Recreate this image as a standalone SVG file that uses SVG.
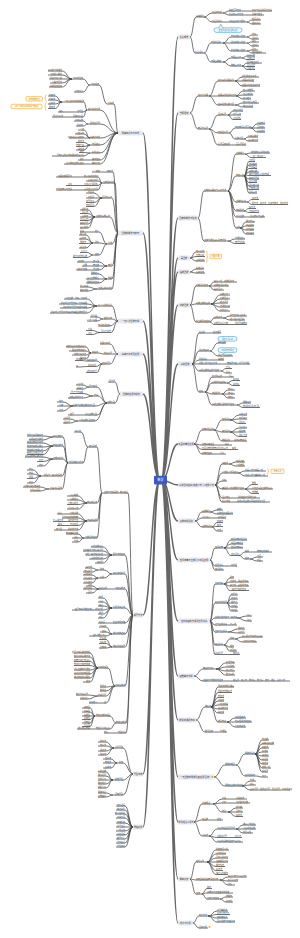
<svg xmlns="http://www.w3.org/2000/svg" width="300" height="938" viewBox="0 0 300 938">
<style>
text{font-family:"Noto Sans CJK SC","Noto Sans",sans-serif;font-size:2px;fill:#444}
#nodes text{transform:translateY(-.5px)}
.e{text-anchor:end}
#connectors path{fill:none;stroke:#464646;stroke-width:.75}
#connectors path.t{stroke:#666;stroke-width:1.4}
#nodes path{fill:none;stroke:#464646;stroke-width:.75}
.mr{fill:#e7e7f1}
#nodes .mt{font-size:2.2px;fill:#333;text-anchor:middle;transform:translateY(.8px)}
#nodes .co{fill:#eef8fd;stroke:#3ba3dc;stroke-width:.6}
#nodes .sb{fill:#fffaf0;stroke:#f5a623;stroke-width:.6}
#nodes .br{fill:none;stroke:#f5a623;stroke-width:.6}
#nodes .ct{font-size:1.9px;fill:#2a7fb0;text-anchor:middle;transform:none}
#nodes .st{font-size:1.9px;fill:#c27a08;text-anchor:middle;transform:none}
#nodes .rt{font-size:3px;fill:#fff;text-anchor:middle;transform:none}
</style>
<rect width="300" height="938" fill="#fff"/>
<g id="connectors">
<path class="t" d="M161 480C170 480 170 37 178 37M161 480C170 480 170 113 178 113M161 480C170 480 170 218 178 218M161 480C170 480 170 258 178 258M161 480C170 480 170 272 178 272M161 480C170 480 170 305 178 305M161 480C170 480 170 364 178 364M161 480C170 480 170 444 178 444M161 480C170 480 170 485 178 485M161 480C170 480 170 521 178 521M161 480C170 480 170 560 178 560M161 480C170 480 170 621 178 621M161 480C170 480 170 676 178 676M161 480C170 480 170 720 178 720M161 480C170 480 170 777 178 777M161 480C170 480 170 822 178 822M161 480C170 480 170 879 178 879M161 480C170 480 170 923 178 923M160 480C151 480 151 133 143 133M160 480C151 480 151 233 143 233M160 480C151 480 151 321 143 321M160 480C151 480 151 354 143 354M160 480C151 480 151 394 143 394M160 480C151 480 151 615 143 615M160 480C151 480 151 774 143 774M160 480C151 480 151 827 143 827"/>
<path d="M190 37C193 37 193 17 196 17M204 17C208 17 208 13 212 13M223 13C226 13 226 11 229 11M244 11H252M223 13C226 13 226 15 229 15M244 15H252M204 17C208 17 208 22 212 22M223 22H229M247 22C249.5 22 249.5 20 252 20M247 22C249.5 22 249.5 24 252 24M190 37C192.5 37 192.5 53 195 53M204 53C207.5 53 207.5 43 211 43M223 43C227 43 227 37 231 37M247 37C249.5 37 249.5 35 252 35M247 37C249.5 37 249.5 39 252 39M223 43H231M247 43C249.5 43 249.5 42 252 42M247 43C249.5 43 249.5 46 252 46M223 43C227 43 227 51 231 51M247 51C249.5 51 249.5 50 252 50M247 51C249.5 51 249.5 53 252 53M204 53C207.5 53 207.5 62 211 62M223 62C227 62 227 58 231 58M242 58C244.5 58 244.5 56 247 56M242 58C244.5 58 244.5 59.5 247 59.5M223 62C227 62 227 66 231 66M242 66C244.5 66 244.5 63 247 63M242 66C244.5 66 244.5 66.5 247 66.5M242 66C244.5 66 244.5 69.5 247 69.5"/>
<path d="M190 113C194 113 194 96 198 96M209 96C213.5 96 213.5 81 218 81M235 81C238.5 81 238.5 77 242 77M235 81H242M235 81C238.5 81 238.5 86 242 86M209 96H218M236 96C239.5 96 239.5 91 243 91M236 96C239.5 96 239.5 95 243 95M236 96C239.5 96 239.5 99 243 99M209 96C213.5 96 213.5 105 218 105M235 105C239 105 239 103 243 103M235 105C239 105 239 107 243 107M190 113C194 113 194 129 198 129M209 129C213.5 129 213.5 115 218 115M228 115C230.5 115 230.5 111 233 111M228 115H233M228 115C230.5 115 230.5 119.5 233 119.5M209 129C213.5 129 213.5 133 218 133M229 133C232 133 232 128 235 128M251 128C254 128 254 124 257 124M251 128H257M251 128C254 128 254 132 257 132M229 133C232 133 232 139 235 139M244 139C246 139 246 137 248 137M244 139C246 139 246 141 248 141M209 129C213.5 129 213.5 145 218 145M231 145H236"/>
<path d="M198 218C201 218 201 191 204 191M228 191C232 191 232 154 236 154M245 154C248 154 248 153 251 153M245 154C248 154 248 157.5 251 157.5M228 191C232 191 232 176 236 176M244 176C246.5 176 246.5 161.5 249 161.5M244 176C246.5 176 246.5 165 249 165M244 176C246.5 176 246.5 168.5 249 168.5M244 176C246.5 176 246.5 172 249 172M244 176C246.5 176 246.5 175.5 249 175.5M244 176C246.5 176 246.5 179 249 179M244 176C246.5 176 246.5 182.5 249 182.5M244 176C246.5 176 246.5 186 249 186M244 176C246.5 176 246.5 189.5 249 189.5M244 176C246.5 176 246.5 193 249 193M228 191C232 191 232 202 236 202M247 202C249.5 202 249.5 199.5 252 199.5M247 202C249.5 202 249.5 204.5 252 204.5M228 191C232 191 232 211 236 211M244 211C246.5 211 246.5 208.5 249 208.5M244 211C246.5 211 246.5 212.5 249 212.5M228 191C232 191 232 217 236 217M244 217H250M228 191C232 191 232 228 236 228M240 228C243 228 243 222 246 222M240 228C243 228 243 226 246 226M240 228C243 228 243 230 246 230M240 228C243 228 243 234 246 234M198 218C201 218 201 241 204 241M228 241C231.5 241 231.5 239 235 239M228 241C231.5 241 231.5 243.5 235 243.5"/>
<path d="M190 258C193 258 193 252 196 252M190 258C193 258 193 256.5 196 256.5M190 258C193 258 193 261 196 261M190 272C193 272 193 269 196 269M190 272C193 272 193 273 196 273"/>
<path d="M190 305C193 305 193 286 196 286M209 286C211.5 286 211.5 282 214 282M209 286H214M209 286C211.5 286 211.5 290 214 290M190 305C193 305 193 304 196 304M211 304C215.5 304 215.5 295 220 295M211 304C215.5 304 215.5 299 220 299M211 304C215.5 304 215.5 303 220 303M211 304C215.5 304 215.5 307 220 307M211 304C215.5 304 215.5 311 220 311M190 305C193 305 193 322 196 322M210 322C212 322 212 318 214 318M223 318C226.5 318 226.5 316 230 316M223 318C226.5 318 226.5 320 230 320M210 322C212 322 212 324.5 214 324.5M228 324.5H235"/>
<path d="M192 364C195.5 364 195.5 333 199 333M206 333H213M192 364C195.5 364 195.5 351 199 351M210 351C214 351 214 343 218 343M210 351C214 351 214 356 218 356M192 364C195.5 364 195.5 360 199 360M208 360H218M192 364H199M221 364H227M192 364C195.5 364 195.5 371 199 371M221 371C223.5 371 223.5 368.5 226 368.5M221 371C223.5 371 223.5 373 226 373M192 364C195.5 364 195.5 392 199 392M205 392C208.5 392 208.5 377 212 377M222 377H229M205 392C208.5 392 208.5 383 212 383M227 383C230 383 230 380.5 233 380.5M227 383C230 383 230 385.5 233 385.5M205 392C208.5 392 208.5 394 212 394M222 394C225 394 225 390 228 390M222 394H228M222 394C225 394 225 398 228 398M205 392C208.5 392 208.5 405 212 405M237 405C240 405 240 403 243 403M237 405C240 405 240 407.5 243 407.5"/>
<path d="M194 444C198 444 198 430 202 430M214 430C218 430 218 420 222 420M230 420C234.5 420 234.5 415 239 415M230 420C234.5 420 234.5 419 239 419M230 420C234.5 420 234.5 423.5 239 423.5M214 430C218 430 218 432 222 432M230 432C234.5 432 234.5 428 239 428M230 432H239M230 432C234.5 432 234.5 436.5 239 436.5M214 430C218 430 218 441 222 441M230 441H234M194 444C198 444 198 445 202 445M217 445H225M194 444C198 444 198 449.5 202 449.5M229 449.5H232M194 444C198 444 198 454 202 454M213 454H220"/>
<path d="M215 485C218.5 485 218.5 464 222 464M229 464C232.5 464 232.5 462 236 462M229 464C232.5 464 232.5 466 236 466M215 485C218.5 485 218.5 473 222 473M238 473C241.5 473 241.5 471 245 471M238 473C241.5 473 241.5 476 245 476M215 485C218.5 485 218.5 481 222 481M215 485C218.5 485 218.5 489 222 489M245 489C248.5 489 248.5 484.5 252 484.5M245 489H252M245 489C248.5 489 248.5 493.5 252 493.5M215 485C218.5 485 218.5 498 222 498M232 498H238M215 485C218.5 485 218.5 502 222 502M232 502H237"/>
<path d="M195 521C198.5 521 198.5 512 202 512M210 512C213.5 512 213.5 510 217 510M210 512C213.5 512 213.5 514 217 514M195 521C198.5 521 198.5 518 202 518M210 518H218M195 521C198.5 521 198.5 527 202 527M212 527C214.5 527 214.5 522.5 217 522.5M212 527C214.5 527 214.5 526.5 217 526.5M212 527C214.5 527 214.5 531 217 531"/>
<path d="M210 560C212.5 560 212.5 548 215 548M224 548C227.5 548 227.5 540 231 540M224 548C227.5 548 227.5 544 231 544M224 548H231M224 548C227.5 548 227.5 555.5 231 555.5M239 555.5C242 555.5 242 552 245 552M250 552H257M239 555.5C242 555.5 242 559 245 559M250 559C253.5 559 253.5 557 257 557M250 559C253.5 559 253.5 561 257 561M210 560C212.5 560 212.5 566 215 566M224 566H231M210 560C212.5 560 212.5 570 215 570"/>
<path d="M210 621C212.5 621 212.5 584 215 584M224 584C227 584 227 578 230 578M224 584C227 584 227 582 230 582M224 584C227 584 227 586 230 586M224 584C227 584 227 590.5 230 590.5M210 621C212.5 621 212.5 603 215 603M227 603C229 603 229 595 231 595M227 603C229 603 229 599 231 599M227 603H231M227 603C229 603 229 607 231 607M227 603C229 603 229 611 231 611M210 621C212.5 621 212.5 618 215 618M237 618C242 618 242 616 247 616M237 618C242 618 242 621 247 621M210 621C212.5 621 212.5 625 215 625M227 625H230M210 621C212.5 621 212.5 632 215 632M228 632C233 632 233 629 238 629M228 632C233 632 233 633 238 633M210 621C212.5 621 212.5 645 215 645M224 645C227 645 227 639 230 639M235 639C238.5 639 238.5 637 242 637M235 639C238.5 639 238.5 642 242 642M224 645C227 645 227 647 230 647M224 645C227 645 227 651 230 651M210 621C212.5 621 212.5 654.5 215 654.5M225 654.5H233"/>
<path d="M194 676C198.5 676 198.5 669 203 669M216 669C221 669 221 663 226 663M216 669C221 669 221 667 226 667M216 669C221 669 221 671 226 671M216 669C221 669 221 675 226 675M194 676C198.5 676 198.5 681 203 681M224 681H233"/>
<path d="M196 720C200.5 720 200.5 707 205 707M211 707C214.5 707 214.5 687 218 687M211 707C214.5 707 214.5 692.5 218 692.5M211 707C214.5 707 214.5 697.5 218 697.5M211 707C214.5 707 214.5 701 218 701M211 707C214.5 707 214.5 705 218 705M211 707C214.5 707 214.5 709 218 709M211 707C214.5 707 214.5 713 218 713M211 707C214.5 707 214.5 722 218 722M227 722C231 722 231 718 235 718M227 722H235M227 722C231 722 231 727 235 727M196 720C200.5 720 200.5 732 205 732M213 732H220"/>
<path d="M214 777C219.5 777 219.5 765 225 765M236 765C240.5 765 240.5 754 245 754M255 754C258.5 754 258.5 740 262 740M255 754C258.5 754 258.5 744 262 744M255 754C258.5 754 258.5 748 262 748M255 754C258.5 754 258.5 752 262 752M255 754C258.5 754 258.5 756 262 756M255 754C258.5 754 258.5 760 262 760M255 754C258.5 754 258.5 764 262 764M255 754C258.5 754 258.5 768 262 768M255 754C258.5 754 258.5 772 262 772M236 765C240.5 765 240.5 776 245 776M256 776C259 776 259 777 262 777M214 777C219.5 777 219.5 786 225 786M242 786C246 786 246 781 250 781M242 786C246 786 246 785 250 785M242 786C246 786 246 790 250 790"/>
<path d="M194 822C198 822 198 804 202 804M213 804C217.5 804 217.5 799 222 799M228 799H236M213 804C217.5 804 217.5 803 222 803M228 803H236M213 804C217.5 804 217.5 812 222 812M228 812C232 812 232 808 236 808M228 812H236M228 812C232 812 232 816.5 236 816.5M194 822C198 822 198 820 202 820M210 820H217M194 822C198 822 198 836 202 836M209 836C213 836 213 829 217 829M236 829C239.5 829 239.5 825 243 825M236 829H243M236 829C239.5 829 239.5 833 243 833M209 836C213 836 213 837.5 217 837.5M228 837.5H235M209 836C213 836 213 842 217 842"/>
<path d="M190 879C193 879 193 862 196 862M207 862C211.5 862 211.5 850 216 850M207 862C211.5 862 211.5 854 216 854M207 862C211.5 862 211.5 858 216 858M207 862H216M207 862C211.5 862 211.5 866.5 216 866.5M207 862C211.5 862 211.5 870.5 216 870.5M207 862C211.5 862 211.5 874.5 216 874.5M190 879C193 879 193 880 196 880M220 880C224 880 224 877 228 877M220 880C224 880 224 881 228 881M220 880C224 880 224 885 228 885M190 879C193 879 193 894 196 894M202 894C204.5 894 204.5 888.5 207 888.5M202 894C204.5 894 204.5 893 207 893M202 894C204.5 894 204.5 899 207 899M220 899C223 899 223 897 226 897M220 899C223 899 223 902 226 902"/>
<path d="M193 923C196 923 196 916 199 916M208 916C212.5 916 212.5 911 217 911M208 916C212.5 916 212.5 914.5 217 914.5M208 916C212.5 916 212.5 918 217 918M208 916C212.5 916 212.5 922 217 922M193 923C196 923 196 928 199 928"/>
<path d="M118 133C116 133 116 104 114 104M107 104C103 104 103 85 99 85M90 85C86.5 85 86.5 79 83 79M72 79C67 79 67 71 62 71M72 79C67 79 67 75 62 75M72 79H62M72 79C67 79 67 83 62 83M72 79C67 79 67 87 62 87M90 85C86.5 85 86.5 92 83 92M118 133C109 133 109 110 100 110M87 110C85.5 110 85.5 102 84 102M62 102C58.5 102 58.5 96 55 96M62 102C58.5 102 58.5 100 55 100M62 102C58.5 102 58.5 104 55 104M62 102C58.5 102 58.5 108.5 55 108.5M87 110C85 110 85 112 83 112M76 112H63M87 110C85 110 85 117 83 117M72 117H63M118 133C109 133 109 124 100 124M88 124C85.5 124 85.5 121 83 121M88 124C85.5 124 85.5 126 83 126M118 133C109 133 109 138 100 138M90 138C87 138 87 130 84 130M90 138C87 138 87 134 84 134M90 138H84M118 133C109 133 109 145 100 145M90 145C87 145 87 142.5 84 142.5M90 145C87 145 87 146.5 84 146.5M90 145C87 145 87 150 84 150M118 133C109 133 109 153 100 153M90 153C87 153 87 152.5 84 152.5M90 153C87 153 87 156 84 156M118 133C109 133 109 160 100 160M90 160H84M118 133C109 133 109 164 100 164M90 164H84"/>
<path d="M118 233C115.5 233 115.5 172 113 172M106 172H100M118 233C116.5 233 116.5 183 115 183M102 183C100 183 100 177 98 177M82 177H72M102 183C100 183 100 181 98 181M102 183C100 183 100 185.5 98 185.5M82 185.5H72M102 183C100 183 100 190 98 190M84 190H72M118 233C115 233 115 198 112 198M102 198C98 198 98 193 94 193M102 198H94M102 198C98 198 98 202.5 94 202.5M102 198C98 198 98 206.5 94 206.5M118 233C114 233 114 217 110 217M95 217C91.5 217 91.5 210 88 210M95 217C91.5 217 91.5 213.5 88 213.5M95 217H88M95 217C91.5 217 91.5 220.5 88 220.5M95 217C91.5 217 91.5 224 88 224M95 217C91.5 217 91.5 228 88 228M118 233C115 233 115 244 112 244M107 244C103 244 103 232 99 232M93 232H84M107 244C103 244 103 243 99 243M93 243C89.5 243 89.5 235 86 235M93 243C89.5 243 89.5 239 86 239M93 243C89.5 243 89.5 243.5 86 243.5M93 243C89.5 243 89.5 248 86 248M107 244C103 244 103 255 99 255M93 255C90 255 90 252.5 87 252.5M93 255C90 255 90 257.5 87 257.5M118 233C115 233 115 266 112 266M107 266C103 266 103 262 99 262M92 262H84M107 266H99M92 266H87M107 266C103 266 103 270 99 270M92 270H87M118 233C115 233 115 279 112 279M107 279C103 279 103 274 99 274M107 279H99M107 279C103 279 103 283 99 283M118 233C115 233 115 289 112 289M97 289C92.5 289 92.5 287 88 287M97 289C92.5 289 92.5 291 88 291"/>
<path d="M118 321C115 321 115 306 112 306M97 306C92 306 92 299 87 299M97 306C92 306 92 304 87 304M97 306C92 306 92 308 87 308M97 306C92 306 92 313 87 313M118 321C115 321 115 319 112 319M103 319C100 319 100 317 97 317M103 319C100 319 100 321 97 321M118 321C114 321 114 326 110 326M118 321C114.5 321 114.5 332.5 111 332.5M100 332.5C96 332.5 96 330.5 92 330.5M100 332.5C96 332.5 96 334.5 92 334.5"/>
<path d="M118 354C114 354 114 344 110 344M118 354H112M104 354C101 354 101 353 98 353M91 353C88.5 353 88.5 347 86 347M91 353C88.5 353 88.5 351 86 351M91 353C88.5 353 88.5 355 86 355M91 353C88.5 353 88.5 359 86 359M118 354C114 354 114 364 110 364M102 364C99.5 364 99.5 361 97 361M86 361C84 361 84 360.5 82 360.5M102 364C99 364 99 366.5 96 366.5M88 366.5C83 366.5 83 367 78 367M102 364C99.5 364 99.5 372.5 97 372.5"/>
<path d="M120 394C117.5 394 117.5 382 115 382M120 394C117.5 394 117.5 403 115 403M107 403C102 403 102 387 97 387M89 387C86 387 86 385 83 385M89 387C86 387 86 389 83 389M107 403C102.5 403 102.5 396 98 396M93 396C88 396 88 393.5 83 393.5M93 396C88 396 88 398 83 398M107 403C101 403 101 406 95 406M73 406C68 406 68 402 63 402M73 406H63M73 406C68 406 68 411 63 411M107 403C102 403 102 415 97 415M83 415H74M107 403C101 403 101 421 95 421M78 421C74 421 74 419 70 419M78 421C74 421 74 423 70 423"/>
<path d="M133 615C130.5 615 130.5 493 128 493M102 493C99.5 493 99.5 447 97 447M88 447C84.5 447 84.5 432 81 432M88 447C85.5 447 85.5 463 83 463M68 463C65.5 463 65.5 437 63 437M53 437C48 437 48 436 43 436M53 437C48 437 48 440 43 440M68 463C65.5 463 65.5 446 63 446M53 446C48 446 48 443 43 443M53 446C48 446 48 447 43 447M53 446C48 446 48 451 43 451M53 446C48 446 48 454.5 43 454.5M68 463C65.5 463 65.5 459 63 459M53 459C48 459 48 457 43 457M53 459C48 459 48 461.5 43 461.5M53 459C48 459 48 466 43 466M68 463C65 463 65 476 62 476M41 476C37 476 37 470 33 470M41 476C37 476 37 474 33 474M41 476C37 476 37 478.5 33 478.5M41 476C37 476 37 483 33 483M68 463C65 463 65 489 62 489M49 489C44.5 489 44.5 487 40 487M49 489C44.5 489 44.5 491 40 491M102 493C99.5 493 99.5 503 97 503M87 503C82.5 503 82.5 496 78 496M87 503C82.5 503 82.5 500 78 500M87 503C82.5 503 82.5 504.5 78 504.5M87 503C82.5 503 82.5 509 78 509M102 493C99.5 493 99.5 521 97 521M87 521C82.5 521 82.5 514 78 514M70 514H62M87 521C82.5 521 82.5 518 78 518M87 521C82.5 521 82.5 521.5 78 521.5M68 521.5H63M87 521C82.5 521 82.5 525.5 78 525.5M70 525.5H62M87 521C82.5 521 82.5 530 78 530M68 530H62M102 493C99.5 493 99.5 538 97 538M84 538C81 538 81 534 78 534M84 538H78M84 538C81 538 81 542 78 542M133 615C129 615 129 555 125 555M112 555C107.5 555 107.5 547 103 547M112 555C107.5 555 107.5 551 103 551M112 555H103M112 555C107.5 555 107.5 559 103 559M112 555C107.5 555 107.5 563 103 563M133 615C129 615 129 574 125 574M112 574C108 574 108 570 104 570M98 570C95 570 95 568 92 568M98 570C95 570 95 572 92 572M112 574C108 574 108 578 104 578M98 578C95 578 95 575 92 575M98 578C95 578 95 579 92 579M98 578C95 578 95 583 92 583M133 615C129 615 129 589 125 589M115 589H107M99 589C95.5 589 95.5 586 92 586M99 589H92M99 589C95.5 589 95.5 593 92 593M133 615C129 615 129 608 125 608M112 608C107.5 608 107.5 598 103 598M112 608C107.5 608 107.5 602 103 602M112 608C107.5 608 107.5 606 103 606M112 608C107.5 608 107.5 610 103 610M112 608C107.5 608 107.5 614 103 614M112 608C107.5 608 107.5 618 103 618M133 615C129 615 129 623 125 623M112 623H105M133 615C129 615 129 634 125 634M112 634C109 634 109 627 106 627M112 634C109 634 109 632 106 632M112 634C109 634 109 636 106 636M133 615C129 615 129 647 125 647M112 647C109 647 109 639.5 106 639.5M112 647C109 647 109 643.5 106 643.5M112 647C109 647 109 648 106 648M133 615C129 615 129 686 125 686M115 686C111.5 686 111.5 668 108 668M98 668C94 668 94 653 90 653M98 668C94 668 94 657 90 657M98 668C94 668 94 661.5 90 661.5M98 668C94 668 94 665.5 90 665.5M98 668C94 668 94 670 90 670M98 668C94 668 94 674 90 674M98 668C94 668 94 678 90 678M98 668C94 668 94 682 90 682M115 686C110.5 686 110.5 687 106 687M115 686C110.5 686 110.5 691 106 691M115 686C110.5 686 110.5 696 106 696M98 696C93 696 93 695 88 695M98 696C93 696 93 699 88 699M115 686C110.5 686 110.5 703 106 703M103 703H97M133 615C129.5 615 129.5 723 126 723M116 723C113 723 113 716 110 716M95 716C92.5 716 92.5 708 90 708M95 716C92.5 716 92.5 712 90 712M95 716H90M95 716C92.5 716 92.5 719.5 90 719.5M95 716C92.5 716 92.5 723 90 723M95 716C92.5 716 92.5 726.5 90 726.5M116 723C113 723 113 729 110 729M95 729H90M133 615C129.5 615 129.5 733 126 733M117 733H108"/>
<path d="M133 774C128 774 128 748 123 748M114 748C110 748 110 742 106 742M114 748C110 748 110 746 106 746M114 748C110 748 110 751 106 751M114 748C110 748 110 755 106 755M133 774C128 774 128 763 123 763M117 763C114 763 114 759 111 759M117 763H111M117 763C114 763 114 768 111 768M133 774C128 774 128 780 123 780M113 780C109.5 780 109.5 772 106 772M113 780C109.5 780 109.5 776 106 776M113 780H106M113 780C109.5 780 109.5 784 106 784M113 780C109.5 780 109.5 788 106 788M133 774C128 774 128 795 123 795M113 795C109.5 795 109.5 793 106 793M113 795C109.5 795 109.5 797 106 797"/>
<path d="M133 827C129 827 129 806 125 806M133 827C129 827 129 810 125 810M133 827C129 827 129 814 125 814M133 827C129 827 129 818 125 818M133 827C129 827 129 823 125 823M133 827H125M133 827C129 827 129 831 125 831M133 827C129 827 129 835 125 835M133 827C129 827 129 839 125 839M133 827C129 827 129 843 125 843M133 827C129 827 129 847 125 847"/>
</g>
<g id="nodes">
<g id="root"><rect x="154" y="475.8" width="13" height="8.6" rx=".8" fill="#3a5bc7"/><text class="rt" x="160.5" y="481.2">数学</text></g>
<g id="R1"><rect class="mr" x="178" y="34.5" width="12" height="5" rx="1"/><text class="mt" x="184" y="37">集合概念</text></g>
<g id="R2"><rect class="mr" x="178" y="110.5" width="12" height="5" rx="1"/><text class="mt" x="184" y="113">常用逻辑</text></g>
<g id="R3"><rect class="mr" x="178" y="215.5" width="20" height="5" rx="1"/><text class="mt" x="188" y="218">函数的概念与性质</text></g>
<g id="R4"><rect class="mr" x="178" y="255.5" width="12" height="5" rx="1"/><text class="mt" x="184" y="258">幂函数</text></g>
<g id="R5"><rect class="mr" x="178" y="269.5" width="12" height="5" rx="1"/><text class="mt" x="184" y="272">指数函数</text></g>
<g id="R6"><rect class="mr" x="178" y="302.5" width="12" height="5" rx="1"/><text class="mt" x="184" y="305">对数函数</text></g>
<g id="R7"><rect class="mr" x="178" y="361.5" width="14" height="5" rx="1"/><text class="mt" x="185" y="364">三角函数</text></g>
<g id="R8"><rect class="mr" x="178" y="441.5" width="16" height="5" rx="1"/><text class="mt" x="186" y="444">平面向量及应用</text></g>
<g id="R9"><rect class="mr" x="178" y="482.5" width="37" height="5" rx="1"/><text class="mt" x="196.5" y="485">三角恒等变换(和差公式) 二倍角公式</text></g>
<g id="R10"><rect class="mr" x="178" y="518.5" width="17" height="5" rx="1"/><text class="mt" x="186.5" y="521">复数四则运算</text></g>
<g id="R11"><rect class="mr" x="178" y="557.5" width="32" height="5" rx="1"/><text class="mt" x="194" y="560">空间向量与立体几何综合应用</text></g>
<g id="R12"><rect class="mr" x="178" y="618.5" width="32" height="5" rx="1"/><text class="mt" x="194" y="621">直线和圆的方程及位置关系</text></g>
<g id="R13"><rect class="mr" x="178" y="673.5" width="16" height="5" rx="1"/><text class="mt" x="186" y="676">圆锥曲线方程</text></g>
<g id="R14"><rect class="mr" x="178" y="717.5" width="18" height="5" rx="1"/><text class="mt" x="187" y="720">数列的通项求和</text></g>
<g id="R15"><rect class="mr" x="178" y="774.5" width="36" height="5" rx="1"/><text class="mt" x="195" y="777">一元函数的导数及其应用(含参)</text><rect x="211.4" y="775.9" width="1.8" height="1.8" rx=".4" fill="#f5a623"/></g>
<g id="R16"><rect class="mr" x="178" y="819.5" width="16" height="5" rx="1"/><text class="mt" x="186" y="822">排列组合二项式</text></g>
<g id="R17"><rect class="mr" x="178" y="876.5" width="12" height="5" rx="1"/><text class="mt" x="184" y="879">概率初步</text></g>
<g id="R18"><rect class="mr" x="178" y="920.5" width="15" height="5" rx="1"/><text class="mt" x="185.5" y="923">统计与分析</text></g>
<g id="L1"><rect class="mr" x="118" y="130.5" width="25" height="5" rx="1"/><text class="mt" x="130.5" y="133">预备知识与不等式</text></g>
<g id="L2"><rect class="mr" x="118" y="230.5" width="25" height="5" rx="1"/><text class="mt" x="130.5" y="233">函数的概念与表示</text></g>
<g id="L3"><rect class="mr" x="118" y="318.5" width="25" height="5" rx="1"/><text class="mt" x="130.5" y="321">一元二次函数方程</text></g>
<g id="L4"><rect class="mr" x="118" y="351.5" width="25" height="5" rx="1"/><text class="mt" x="130.5" y="354">基本不等式及应用</text></g>
<g id="L5"><rect class="mr" x="120" y="391.5" width="23" height="5" rx="1"/><text class="mt" x="131.5" y="394">函数的应用与建模</text></g>
<g id="L6"><rect class="mr" x="133" y="612.5" width="10" height="5" rx="1"/><text class="mt" x="138" y="615">解题方法</text></g>
<g id="L7"><rect class="mr" x="133" y="771.5" width="10" height="5" rx="1"/><text class="mt" x="138" y="774">题型归纳</text></g>
<g id="L8"><rect class="mr" x="133" y="824.5" width="10" height="5" rx="1"/><text class="mt" x="138" y="827">易错辨析</text></g>
<g id="r1a"><path d="M196 17h8"/><text x="196" y="17">基本概念</text></g>
<g id="r1a1"><path d="M212 13h11"/><text x="212" y="13">集合的元素</text></g>
<g id="r1a1a"><path d="M229 11h15"/><text x="229" y="11">确定互异无序</text></g>
<g id="r1a1a1"><path d="M252 11h20"/><text x="252" y="11">元素与集合的属于关系</text></g>
<g id="r1a1b"><path d="M229 15h15"/><text x="229" y="15">集合的表示方法</text></g>
<g id="r1a1b1"><path d="M252 15h12"/><text x="252" y="15">列举与描述</text></g>
<g id="r1a2"><path d="M212 22h11"/><text x="212" y="22">集合间关系</text></g>
<g id="r1a2a"><path d="M229 22h18"/><text x="229" y="22">子集真子集与相等</text></g>
<g id="r1a2a1"><path d="M252 20h9"/><text x="252" y="20">包含关系</text></g>
<g id="r1a2a2"><path d="M252 24h9"/><text x="252" y="24">相等关系</text></g>
<g id="r1co"><rect class="co" x="214" y="27.8" width="28" height="4.6" rx="2.3"/><path class="co" d="M219 27.9L220.8 24.2L222.8 27.9"/><text class="ct" x="228" y="30.8">空集是任何集合的子集</text></g>
<g id="r1b"><path d="M195 53h9"/><text x="195" y="53">集合运算</text></g>
<g id="r1b1"><path d="M211 43h12"/><text x="211" y="43">交并补运算</text></g>
<g id="r1b1a"><path d="M231 37h16"/><text x="231" y="37">交集的定义性质</text></g>
<g id="r1b1a1"><path d="M252 35h6"/><text x="252" y="35">交集</text></g>
<g id="r1b1a2"><path d="M252 39h7"/><text x="252" y="39">运算律</text></g>
<g id="r1b1b"><path d="M231 43h16"/><text x="231" y="43">并集的定义性质</text></g>
<g id="r1b1b1"><path d="M252 42h7"/><text x="252" y="42">并集</text></g>
<g id="r1b1b2"><path d="M252 46h7"/><text x="252" y="46">运算律</text></g>
<g id="r1b1c"><path d="M231 51h16"/><text x="231" y="51">补集的定义性质</text></g>
<g id="r1b1c1"><path d="M252 50h6"/><text x="252" y="50">全集</text></g>
<g id="r1b1c2"><path d="M252 53h14"/><text x="252" y="53">德摩根定律</text></g>
<g id="r1b2"><path d="M211 62h12"/><text x="211" y="62">韦恩图数轴</text></g>
<g id="r1b2a"><path d="M231 58h11"/><text x="231" y="58">韦恩图表示</text></g>
<g id="r1b2a1"><path d="M247 56h8"/><text x="247" y="56">图形表示</text></g>
<g id="r1b2a2"><path d="M247 59.5h8"/><text x="247" y="59.5">计数问题</text></g>
<g id="r1b2b"><path d="M231 66h11"/><text x="231" y="66">数轴表示法</text></g>
<g id="r1b2b1"><path d="M247 63h15"/><text x="247" y="63">区间端点取舍</text></g>
<g id="r1b2b2"><path d="M247 66.5h8"/><text x="247" y="66.5">含参问题</text></g>
<g id="r1b2b3"><path d="M247 69.5h8"/><text x="247" y="69.5">分类讨论</text></g>
<g id="r2a"><path d="M198 96h11"/><text x="198" y="96">充分与必要</text></g>
<g id="r2a1"><path d="M218 81h17"/><text x="218" y="81">充分条件必要条件</text></g>
<g id="r2a1a"><path d="M242 77h17"/><text x="242" y="77">p是q的充分条件</text></g>
<g id="r2a1b"><path d="M242 81h12"/><text x="242" y="81">必要条件判定</text></g>
<g id="r2a1c"><path d="M242 86h18"/><text x="242" y="86">充要条件的证明方法</text></g>
<g id="r2a2"><path d="M218 96h18"/><text x="218" y="96">充要条件的判断方法</text></g>
<g id="r2a2a"><path d="M243 91h12"/><text x="243" y="91">定义法推导</text></g>
<g id="r2a2b"><path d="M243 95h10"/><text x="243" y="95">集合法判断</text></g>
<g id="r2a2c"><path d="M243 99h8"/><text x="243" y="99">等价转化</text></g>
<g id="r2a3"><path d="M218 105h17"/><text x="218" y="105">由条件求参数范围</text></g>
<g id="r2a3a"><path d="M243 103h16"/><text x="243" y="103">转化为集合包含</text></g>
<g id="r2a3b"><path d="M243 107h10"/><text x="243" y="107">端点值检验</text></g>
<g id="r2b"><path d="M198 129h11"/><text x="198" y="129">量词与命题</text></g>
<g id="r2b1"><path d="M218 115h10"/><text x="218" y="115">全称命题</text></g>
<g id="r2b1a"><path d="M233 111h10"/><text x="233" y="111">对任意成立</text></g>
<g id="r2b1b"><path d="M233 115h8"/><text x="233" y="115">符号表示</text></g>
<g id="r2b1c"><path d="M233 119.5h8"/><text x="233" y="119.5">真假判断</text></g>
<g id="r2b2"><path d="M218 133h11"/><text x="218" y="133">存在性命题</text></g>
<g id="r2b2a"><path d="M235 128h16"/><text x="235" y="128">存在量词命题否定</text></g>
<g id="r2b2a1"><path d="M257 124h8"/><text x="257" y="124">改变量词</text></g>
<g id="r2b2a2"><path d="M257 128h8"/><text x="257" y="128">否定结论</text></g>
<g id="r2b2a3"><path d="M257 132h8"/><text x="257" y="132">真假相反</text></g>
<g id="r2b2b"><path d="M235 139h9"/><text x="235" y="139">参数范围</text></g>
<g id="r2b2b1"><path d="M248 137h10"/><text x="248" y="137">分离参数法</text></g>
<g id="r2b2b2"><path d="M248 141h10"/><text x="248" y="141">最值转化法</text></g>
<g id="r2c"><path d="M218 145h13"/><text x="218" y="145">命题否定辨析</text></g>
<g id="r2c1"><path d="M236 145h10"/><text x="236" y="145">否命题区别</text></g>
<g id="r3a"><path d="M204 191h24"/><text x="204" y="191">函数的三要素与表示方法</text></g>
<g id="r3a1"><path d="M236 154h9"/><text x="236" y="154">函数概念</text></g>
<g id="r3a1a"><path d="M251 153h19"/><text x="251" y="153">非空数集之间的对应</text></g>
<g id="r3a1b"><path d="M251 157.5h15"/><text x="251" y="157.5">一对一或多对一</text></g>
<g id="r3a2"><path d="M236 176h8"/><text x="236" y="176">求定义域</text></g>
<g id="r3a2a"><path d="M249 161.5h6"/><text x="249" y="161.5">分式型</text></g>
<g id="r3a2b"><path d="M249 165h8"/><text x="249" y="165">偶次根式</text></g>
<g id="r3a2c"><path d="M249 168.5h8"/><text x="249" y="168.5">零次幂型</text></g>
<g id="r3a2d"><path d="M249 172h10"/><text x="249" y="172">对数真数</text></g>
<g id="r3a2e"><path d="M249 175.5h22"/><text x="249" y="175.5">抽象函数定义域的求解</text></g>
<g id="r3a2f"><path d="M249 179h10"/><text x="249" y="179">实际问题型</text></g>
<g id="r3a2g"><path d="M249 182.5h8"/><text x="249" y="182.5">复合函数</text></g>
<g id="r3a2h"><path d="M249 186h10"/><text x="249" y="186">含参定义域</text></g>
<g id="r3a2i"><path d="M249 189.5h10"/><text x="249" y="189.5">已知求参数</text></g>
<g id="r3a2j"><path d="M249 193h8"/><text x="249" y="193">区间表示</text></g>
<g id="r3a3"><path d="M236 202h11"/><text x="236" y="202">函数的值域</text></g>
<g id="r3a3a"><path d="M252 199.5h7"/><text x="252" y="199.5">观察法</text></g>
<g id="r3a3b"><path d="M252 204.5h36"/><text x="252" y="204.5">配方法、换元法、分离常数法、判别式法</text></g>
<g id="r3a4"><path d="M236 211h8"/><text x="236" y="211">求解析式</text></g>
<g id="r3a4a"><path d="M249 208.5h7"/><text x="249" y="208.5">换元法</text></g>
<g id="r3a4b"><path d="M249 212.5h10"/><text x="249" y="212.5">方程组方法</text></g>
<g id="r3a5"><path d="M236 217h8"/><text x="236" y="217">分段函数</text></g>
<g id="r3a5a"><path d="M250 217h15"/><text x="250" y="217">分段求值与图像</text></g>
<g id="r3a6"><path d="M236 228h4"/><text x="236" y="228">图像</text></g>
<g id="r3a6a"><path d="M246 222h9"/><text x="246" y="222">描点作图</text></g>
<g id="r3a6b"><path d="M246 226h8"/><text x="246" y="226">平移变换</text></g>
<g id="r3a6c"><path d="M246 230h8"/><text x="246" y="230">对称变换</text></g>
<g id="r3a6d"><path d="M246 234h8"/><text x="246" y="234">伸缩变换</text></g>
<g id="r3b"><path d="M204 241h24"/><text x="204" y="241">函数单调性最值及奇偶性</text></g>
<g id="r3b1"><path d="M235 239h10"/><text x="235" y="239">单调性定义</text></g>
<g id="r3b2"><path d="M235 243.5h10"/><text x="235" y="243.5">奇偶性判断</text></g>
<g id="r4a"><path d="M196 252h9"/><text x="196" y="252">定义形式</text></g>
<g id="r4b"><path d="M196 256.5h9"/><text x="196" y="256.5">五种图像</text></g>
<g id="r4c"><path d="M196 261h9"/><text x="196" y="261">图像性质</text></g>
<g id="r4s"><path class="br" d="M206 250.8q1 0 1 1v3.7q0 1 1 1q-1 0-1 1v3.7q0 1-1 1"/><rect class="sb" x="210" y="254.3" width="11.5" height="4.4" rx=".8"/><text class="st" x="215.75" y="257.2">性质归纳</text></g>
<g id="r5a"><path d="M196 269h8"/><text x="196" y="269">指数运算</text></g>
<g id="r5b"><path d="M196 273h9"/><text x="196" y="273">图像性质</text></g>
<g id="r6a"><path d="M196 286h13"/><text x="196" y="286">对数运算性质</text></g>
<g id="r6a1"><path d="M214 282h23"/><text x="214" y="282">换底公式，对数恒等式</text></g>
<g id="r6a2"><path d="M214 286h15"/><text x="214" y="286">对数的运算法则</text></g>
<g id="r6a3"><path d="M214 290h10"/><text x="214" y="290">指对互化</text></g>
<g id="r6b"><path d="M196 304h15"/><text x="196" y="304">对数函数的图像</text></g>
<g id="r6b1"><path d="M220 295h10"/><text x="220" y="295">底数大于一</text></g>
<g id="r6b2"><path d="M220 299h10"/><text x="220" y="299">底数零到一</text></g>
<g id="r6b3"><path d="M220 303h8"/><text x="220" y="303">定点问题</text></g>
<g id="r6b4"><path d="M220 307h10"/><text x="220" y="307">单调性比较</text></g>
<g id="r6b5"><path d="M220 311h10"/><text x="220" y="311">比较大小</text></g>
<g id="r6c"><path d="M196 322h14"/><text x="196" y="322">反函数及其应用</text></g>
<g id="r6c1"><path d="M214 318h9"/><text x="214" y="318">图像对称</text></g>
<g id="r6c1a"><path d="M230 316h17"/><text x="230" y="316">关于直线y=x对称</text></g>
<g id="r6c1b"><path d="M230 320h15"/><text x="230" y="320">定义域值域互换</text></g>
<g id="r6c2"><path d="M214 324.5h14"/><text x="214" y="324.5">对数型复合函数</text></g>
<g id="r6c2a"><path d="M235 324.5h12"/><text x="235" y="324.5">同增异减原则</text></g>
<g id="r7a"><path d="M199 333h7"/><text x="199" y="333">任意角</text></g>
<g id="r7a1"><path d="M213 333h8"/><text x="213" y="333">终边相同</text></g>
<g id="r7b"><path d="M199 351h11"/><text x="199" y="351">弧度制换算</text></g>
<g id="r7b1"><path d="M218 343h8"/><text x="218" y="343">扇形面积</text></g>
<g id="r7b2"><path d="M218 356h15"/><text x="218" y="356">角度与弧度换算</text></g>
<g id="r7co1"><rect class="co" x="218" y="336.5" width="19" height="4.6" rx="2.3"/><path class="co" d="M221 341L222 342.4L223.6 341"/><text class="ct" x="227.5" y="339.5">弧长公式l=αr</text></g>
<g id="r7co2"><rect class="co" x="218" y="347.8" width="19" height="4.6" rx="2.3"/><path class="co" d="M222 352.3L223 353.8L224.6 352.3"/><text class="ct" x="227.5" y="350.8">180°等于π弧度</text></g>
<g id="r7c"><path d="M199 360h9"/><text x="199" y="360">同角关系</text></g>
<g id="r7c1"><path d="M218 360h6"/><text x="218" y="360">商数式</text></g>
<g id="r7d"><path d="M199 364h22"/><text x="199" y="364">诱导公式与记忆方法</text></g>
<g id="r7d1"><path d="M227 364h23"/><text x="227" y="364">奇变偶不变，符号看象限</text></g>
<g id="r7e"><path d="M199 371h22"/><text x="199" y="371">三角函数的图像与性质</text></g>
<g id="r7e1"><path d="M226 368.5h6"/><text x="226" y="368.5">正弦</text></g>
<g id="r7e2"><path d="M226 373h6"/><text x="226" y="373">余弦</text></g>
<g id="r7f"><path d="M199 392h6"/><text x="199" y="392">应用</text></g>
<g id="r7f1"><path d="M212 377h10"/><text x="212" y="377">五点作图法</text></g>
<g id="r7f1a"><path d="M229 377h5"/><text x="229" y="377">列表</text></g>
<g id="r7f2"><path d="M212 383h15"/><text x="212" y="383">图像的平移伸缩</text></g>
<g id="r7f2a"><path d="M233 380.5h7"/><text x="233" y="380.5">先平移</text></g>
<g id="r7f2b"><path d="M233 385.5h7"/><text x="233" y="385.5">先伸缩</text></g>
<g id="r7f3"><path d="M212 394h10"/><text x="212" y="394">求解析式</text></g>
<g id="r7f3a"><path d="M228 390h7"/><text x="228" y="390">求A值</text></g>
<g id="r7f3b"><path d="M228 394h7"/><text x="228" y="394">求ω值</text></g>
<g id="r7f3c"><path d="M228 398h7"/><text x="228" y="398">求φ值</text></g>
<g id="r7f4"><path d="M212 405h25"/><text x="212" y="405">三角函数模型的简单应用</text></g>
<g id="r7f4a"><path d="M243 403h8"/><text x="243" y="403">周期现象</text></g>
<g id="r7f4b"><path d="M243 407.5h17"/><text x="243" y="407.5">物理简谐运动模型</text></g>
<g id="r8a"><path d="M202 430h12"/><text x="202" y="430">向量线性运算</text></g>
<g id="r8a1"><path d="M222 420h8"/><text x="222" y="420">加法运算</text></g>
<g id="r8a1a"><path d="M239 415h8"/><text x="239" y="415">三角形法</text></g>
<g id="r8a1b"><path d="M239 419h8"/><text x="239" y="419">平行四边</text></g>
<g id="r8a1c"><path d="M239 423.5h7"/><text x="239" y="423.5">运算律</text></g>
<g id="r8a2"><path d="M222 432h8"/><text x="222" y="432">减法运算</text></g>
<g id="r8a2a"><path d="M239 428h8"/><text x="239" y="428">几何意义</text></g>
<g id="r8a2b"><path d="M239 432h7"/><text x="239" y="432">相反量</text></g>
<g id="r8a2c"><path d="M239 436.5h8"/><text x="239" y="436.5">共起点法</text></g>
<g id="r8a3"><path d="M222 441h8"/><text x="222" y="441">数乘运算</text></g>
<g id="r8a3a"><path d="M234 441h13"/><text x="234" y="441">共线向量定理</text></g>
<g id="r8b"><path d="M202 445h15"/><text x="202" y="445">向量基本定理</text></g>
<g id="r8b1"><path d="M225 445h7"/><text x="225" y="445">基底</text></g>
<g id="r8c"><path d="M202 449.5h27"/><text x="202" y="449.5">平面向量的数量积及坐标表示</text></g>
<g id="r8c1"><path d="M232 449.5h6"/><text x="232" y="449.5">夹角</text></g>
<g id="r8d"><path d="M202 454h11"/><text x="202" y="454">向量的应用</text></g>
<g id="r8d1"><path d="M220 454h6"/><text x="220" y="454">几何</text></g>
<g id="r9a"><path d="M222 464h7"/><text x="222" y="464">和差角</text></g>
<g id="r9a1"><path d="M236 462h9"/><text x="236" y="462">两角和差</text></g>
<g id="r9a2"><path d="M236 466h9"/><text x="236" y="466">公式推导</text></g>
<g id="r9b"><path d="M222 473h16"/><text x="222" y="473">二倍角公式及变形</text></g>
<g id="r9b1"><path d="M245 471h21"/><text x="245" y="471">升幂公式与降幂公式</text></g>
<g id="r9b2"><path d="M245 476h23"/><text x="245" y="476">半角公式与辅助角公式</text></g>
<g id="r9s"><path class="br" d="M267 468.5q1 0 1 1v.8q0 1 1 1q-1 0-1 1v.8q0 1-1 1"/><rect class="sb" x="271" y="469.1" width="13" height="4.4" rx=".8"/><text class="st" x="277.5" y="472">常考公式</text></g>
<g id="r9c"><path d="M222 481h5"/><text x="222" y="481">化简</text></g>
<g id="r9d"><path d="M222 489h23"/><text x="222" y="489">辅助角公式的推导与应用</text></g>
<g id="r9d1"><path d="M252 484.5h6"/><text x="252" y="484.5">推导</text></g>
<g id="r9d2"><path d="M252 489h21"/><text x="252" y="489">化为正弦型函数求最值</text></g>
<g id="r9d3"><path d="M252 493.5h7"/><text x="252" y="493.5">求周期</text></g>
<g id="r9e"><path d="M222 498h10"/><text x="222" y="498">给值求值</text></g>
<g id="r9e1"><path d="M238 498h22"/><text x="238" y="498">角的变换与整体代换</text></g>
<g id="r9f"><path d="M222 502h10"/><text x="222" y="502">给值求角</text></g>
<g id="r9f1"><path d="M237 502h33"/><text x="237" y="502">先求三角函数值再确定角的范围</text></g>
<g id="r10a"><path d="M202 512h8"/><text x="202" y="512">复数概念</text></g>
<g id="r10a1"><path d="M217 510h6"/><text x="217" y="510">虚数i</text></g>
<g id="r10a2"><path d="M217 514h16"/><text x="217" y="514">复数相等充要条件</text></g>
<g id="r10b"><path d="M202 518h8"/><text x="202" y="518">几何意义</text></g>
<g id="r10b1"><path d="M218 518h8"/><text x="218" y="518">复平面点</text></g>
<g id="r10c"><path d="M202 527h10"/><text x="202" y="527">复数的运算</text></g>
<g id="r10c1"><path d="M217 522.5h6"/><text x="217" y="522.5">加减法</text></g>
<g id="r10c2"><path d="M217 526.5h6"/><text x="217" y="526.5">乘法</text></g>
<g id="r10c3"><path d="M217 531h6"/><text x="217" y="531">除法</text></g>
<g id="r11a"><path d="M215 548h9"/><text x="215" y="548">空间向量</text></g>
<g id="r11a1"><path d="M231 540h16"/><text x="231" y="540">空间向量线性运算</text></g>
<g id="r11a2"><path d="M231 544h12"/><text x="231" y="544">共面向量定理</text></g>
<g id="r11a3"><path d="M231 548h12"/><text x="231" y="548">空间向量基底</text></g>
<g id="r11a4"><path d="M231 555.5h8"/><text x="231" y="555.5">坐标运算</text></g>
<g id="r11a4a"><path d="M245 552h5"/><text x="245" y="552">夹角</text></g>
<g id="r11a4a1"><path d="M257 552h15"/><text x="257" y="552">数量积求夹角</text></g>
<g id="r11a4b"><path d="M245 559h5"/><text x="245" y="559">距离</text></g>
<g id="r11a4b1"><path d="M257 557h6"/><text x="257" y="557">点面</text></g>
<g id="r11a4b2"><path d="M257 561h6"/><text x="257" y="561">线面</text></g>
<g id="r11b"><path d="M215 566h9"/><text x="215" y="566">位置关系</text></g>
<g id="r11b1"><path d="M231 566h6"/><text x="231" y="566">平行性</text></g>
<g id="r11c"><path d="M215 570h9"/><text x="215" y="570">空间角度</text></g>
<g id="r12a"><path d="M215 584h9"/><text x="215" y="584">直线方程</text></g>
<g id="r12a1"><path d="M230 578h4"/><text x="230" y="578">斜率</text></g>
<g id="r12a2"><path d="M230 582h19"/><text x="230" y="582">点斜式、斜截式方程</text></g>
<g id="r12a3"><path d="M230 586h19"/><text x="230" y="586">两点式、截距式方程</text></g>
<g id="r12a4"><path d="M230 590.5h19"/><text x="230" y="590.5">一般式方程的应用</text></g>
<g id="r12b"><path d="M215 603h12"/><text x="215" y="603">两直线的位置</text></g>
<g id="r12b1"><path d="M231 595h7"/><text x="231" y="595">平行线</text></g>
<g id="r12b2"><path d="M231 599h7"/><text x="231" y="599">垂直线</text></g>
<g id="r12b3"><path d="M231 603h7"/><text x="231" y="603">相交点</text></g>
<g id="r12b4"><path d="M231 607h7"/><text x="231" y="607">点线距</text></g>
<g id="r12b5"><path d="M231 611h7"/><text x="231" y="611">线线距</text></g>
<g id="r12c"><path d="M215 618h22"/><text x="215" y="618">圆的标准方程与一般方程</text></g>
<g id="r12c1"><path d="M247 616h5"/><text x="247" y="616">圆心</text></g>
<g id="r12c2"><path d="M247 621h5"/><text x="247" y="621">半径</text></g>
<g id="r12d"><path d="M215 625h12"/><text x="215" y="625">点与圆的关系</text></g>
<g id="r12d1"><path d="M230 625h7"/><text x="230" y="625">代入法</text></g>
<g id="r12e"><path d="M215 632h13"/><text x="215" y="632">直线与圆关系</text></g>
<g id="r12e1"><path d="M238 629h7"/><text x="238" y="629">相切线</text></g>
<g id="r12e2"><path d="M238 633h7"/><text x="238" y="633">弦长题</text></g>
<g id="r12f"><path d="M215 645h9"/><text x="215" y="645">两圆关系</text></g>
<g id="r12f1"><path d="M230 639h5"/><text x="230" y="639">外离</text></g>
<g id="r12f1a"><path d="M242 637h21"/><text x="242" y="637">圆心距大于两半径之和</text></g>
<g id="r12f1b"><path d="M242 642h15"/><text x="242" y="642">公切线共有四条</text></g>
<g id="r12f2"><path d="M230 647h4"/><text x="230" y="647">相交</text></g>
<g id="r12f3"><path d="M230 651h7"/><text x="230" y="651">内含切</text></g>
<g id="r12g"><path d="M215 654.5h10"/><text x="215" y="654.5">对称问题</text></g>
<g id="r12g1"><path d="M233 654.5h7"/><text x="233" y="654.5">轴对称</text></g>
<g id="r13a"><path d="M203 669h13"/><text x="203" y="669">椭圆的方程</text></g>
<g id="r13a1"><path d="M226 663h9"/><text x="226" y="663">标准方程</text></g>
<g id="r13a2"><path d="M226 667h9"/><text x="226" y="667">几何性质</text></g>
<g id="r13a3"><path d="M226 671h9"/><text x="226" y="671">离心率值</text></g>
<g id="r13a4"><path d="M226 675h9"/><text x="226" y="675">焦点三角</text></g>
<g id="r13b"><path d="M203 681h21"/><text x="203" y="681">双曲线与抛物线的性质</text></g>
<g id="r13b1"><path d="M233 681h57"/><text x="233" y="681">渐近线、离心率、焦半径、焦点弦、准线、通径、弦长公式</text></g>
<g id="r14a"><path d="M205 707h6"/><text x="205" y="707">通项法</text></g>
<g id="r14a1"><path d="M218 687h16"/><text x="218" y="687">累加法求数列通项</text></g>
<g id="r14a2"><path d="M218 692.5h14"/><text x="218" y="692.5">累乘法求通项式</text></g>
<g id="r14a3"><path d="M218 697.5h6"/><text x="218" y="697.5">构造法</text></g>
<g id="r14a4"><path d="M218 701h6"/><text x="218" y="701">待定法</text></g>
<g id="r14a5"><path d="M218 705h10"/><text x="218" y="705">公式法求解</text></g>
<g id="r14a6"><path d="M218 709h10"/><text x="218" y="709">取倒数方法</text></g>
<g id="r14a7"><path d="M218 713h6"/><text x="218" y="713">换元法</text></g>
<g id="r14a8"><path d="M218 722h9"/><text x="218" y="722">数列求和</text></g>
<g id="r14a8a"><path d="M235 718h11"/><text x="235" y="718">错位相减法</text></g>
<g id="r14a8b"><path d="M235 722h17"/><text x="235" y="722">裂项相消法的应用</text></g>
<g id="r14a8c"><path d="M235 727h11"/><text x="235" y="727">分组求和法</text></g>
<g id="r14b"><path d="M205 732h8"/><text x="205" y="732">数列性质</text></g>
<g id="r14b1"><path d="M220 732h7"/><text x="220" y="732">单调性</text></g>
<g id="r15a"><path d="M225 765h11"/><text x="225" y="765">导数的概念</text></g>
<g id="r15a1"><path d="M245 754h10"/><text x="245" y="754">导数的运算</text></g>
<g id="r15a1a"><path d="M262 740h7"/><text x="262" y="740">常函数</text></g>
<g id="r15a1b"><path d="M262 744h12"/><text x="262" y="744">基本初等函数</text></g>
<g id="r15a1c"><path d="M262 748h7"/><text x="262" y="748">和差法</text></g>
<g id="r15a1d"><path d="M262 752h6"/><text x="262" y="752">积法则</text></g>
<g id="r15a1e"><path d="M262 756h7"/><text x="262" y="756">商法则</text></g>
<g id="r15a1f"><path d="M262 760h6"/><text x="262" y="760">复合型</text></g>
<g id="r15a1g"><path d="M262 764h6"/><text x="262" y="764">链式法</text></g>
<g id="r15a1h"><path d="M262 768h9"/><text x="262" y="768">求导公式</text></g>
<g id="r15a1i"><path d="M262 772h6"/><text x="262" y="772">切线题</text></g>
<g id="r15a2"><path d="M245 776h11"/><text x="245" y="776">切线的斜率</text></g>
<g id="r15a2a"><path d="M262 777h6"/><text x="262" y="777">切点</text></g>
<g id="r15b"><path d="M225 786h17"/><text x="225" y="786">导数在函数中的应用</text></g>
<g id="r15b1"><path d="M250 781h6"/><text x="250" y="781">单调</text></g>
<g id="r15b2"><path d="M250 785h6"/><text x="250" y="785">极值</text></g>
<g id="r15b3"><path d="M250 790h40"/><text x="250" y="790">最值问题、恒成立问题、零点问题、不等式证明</text></g>
<g id="r16a"><path d="M202 804h11"/><text x="202" y="804">计数原理</text></g>
<g id="r16a1"><path d="M222 799h6"/><text x="222" y="799">分类</text></g>
<g id="r16a1a"><path d="M236 799h11"/><text x="236" y="799">分类加法</text></g>
<g id="r16a2"><path d="M222 803h6"/><text x="222" y="803">分步</text></g>
<g id="r16a2a"><path d="M236 803h14"/><text x="236" y="803">分步乘法计数</text></g>
<g id="r16a3"><path d="M222 812h6"/><text x="222" y="812">排列</text></g>
<g id="r16a3a"><path d="M236 808h7"/><text x="236" y="808">排列数</text></g>
<g id="r16a3b"><path d="M236 812h7"/><text x="236" y="812">全排列</text></g>
<g id="r16a3c"><path d="M236 816.5h7"/><text x="236" y="816.5">捆绑法</text></g>
<g id="r16b"><path d="M202 820h8"/><text x="202" y="820">组合数</text></g>
<g id="r16b1"><path d="M217 820h6"/><text x="217" y="820">性质</text></g>
<g id="r16c"><path d="M202 836h7"/><text x="202" y="836">二项式</text></g>
<g id="r16c1"><path d="M217 829h19"/><text x="217" y="829">二项式定理及展开式</text></g>
<g id="r16c1a"><path d="M243 825h13"/><text x="243" y="825">通项公式应用</text></g>
<g id="r16c1b"><path d="M243 829h13"/><text x="243" y="829">二项式的系数</text></g>
<g id="r16c1c"><path d="M243 833h10"/><text x="243" y="833">杨辉三角</text></g>
<g id="r16c2"><path d="M217 837.5h11"/><text x="217" y="837.5">系数和问题</text></g>
<g id="r16c2a"><path d="M235 837.5h7"/><text x="235" y="837.5">赋值法</text></g>
<g id="r16c3"><path d="M217 842h26"/><text x="217" y="842">二项式系数的性质与最大项</text></g>
<g id="r17a"><path d="M196 862h11"/><text x="196" y="862">随机事件</text></g>
<g id="r17a1"><path d="M216 850h13"/><text x="216" y="850">样本空间事件</text></g>
<g id="r17a2"><path d="M216 854h10"/><text x="216" y="854">事件的关系</text></g>
<g id="r17a3"><path d="M216 858h12"/><text x="216" y="858">互斥事件对立</text></g>
<g id="r17a4"><path d="M216 862h12"/><text x="216" y="862">古典概型计算</text></g>
<g id="r17a5"><path d="M216 866.5h9"/><text x="216" y="866.5">概率性质</text></g>
<g id="r17a6"><path d="M216 870.5h7"/><text x="216" y="870.5">频率法</text></g>
<g id="r17a7"><path d="M216 874.5h12"/><text x="216" y="874.5">独立事件概率</text></g>
<g id="r17b"><path d="M196 880h24"/><text x="196" y="880">离散型随机变量及其分布</text></g>
<g id="r17b1"><path d="M228 877h19"/><text x="228" y="877">两点分布与二项分布</text></g>
<g id="r17b2"><path d="M228 881h10"/><text x="228" y="881">超几何分布</text></g>
<g id="r17b3"><path d="M228 885h7"/><text x="228" y="885">均值</text></g>
<g id="r17c"><path d="M196 894h6"/><text x="196" y="894">正态</text></g>
<g id="r17c1"><path d="M207 888.5h5"/><text x="207" y="888.5">曲线</text></g>
<g id="r17c2"><path d="M207 893h26"/><text x="207" y="893">3σ原则与正态曲线的性质</text></g>
<g id="r17c3"><path d="M207 899h13"/><text x="207" y="899">正态分布应用</text></g>
<g id="r17c3a"><path d="M226 897h7"/><text x="226" y="897">求概率</text></g>
<g id="r17c3b"><path d="M226 902h7"/><text x="226" y="902">对称性</text></g>
<g id="r18a"><path d="M199 916h9"/><text x="199" y="916">统计方法</text></g>
<g id="r18a1"><path d="M217 911h11"/><text x="217" y="911">分层抽样法</text></g>
<g id="r18a2"><path d="M217 914.5h13"/><text x="217" y="914.5">频率分布直方</text></g>
<g id="r18a3"><path d="M217 918h11"/><text x="217" y="918">用样本估计</text></g>
<g id="r18a4"><path d="M217 922h18"/><text x="217" y="922">百分位数与方差计算</text></g>
<g id="r18b"><path d="M199 928h9"/><text x="199" y="928">回归分析</text><rect x="208.6" y="926.1" width="1.7" height="1.7" rx=".4" fill="#f5a623"/></g>
<g id="l1a"><path d="M114 104h-7"/><text class="e" x="114" y="104">不等式</text></g>
<g id="l1a1"><path d="M99 85h-9"/><text class="e" x="99" y="85">不等性质</text></g>
<g id="l1a1a"><path d="M83 79h-11"/><text class="e" x="83" y="79">不等式性质</text></g>
<g id="l1a1a1"><path d="M62 71h-14"/><text class="e" x="62" y="71">对称性与传递性</text></g>
<g id="l1a1a2"><path d="M62 75h-14"/><text class="e" x="62" y="75">可加性可乘性</text></g>
<g id="l1a1a3"><path d="M62 79h-13"/><text class="e" x="62" y="79">同向不等可加</text></g>
<g id="l1a1a4"><path d="M62 83h-12"/><text class="e" x="62" y="83">可乘方开方</text></g>
<g id="l1a1a5"><path d="M62 87h-13"/><text class="e" x="62" y="87">倒数性质应用</text></g>
<g id="l1a1b"><path d="M83 92h-9"/><text class="e" x="83" y="92">比较大小</text></g>
<g id="l1b"><path d="M100 110h-13"/><text class="e" x="100" y="110">解不等式方法</text></g>
<g id="l1b1"><path d="M84 102h-22"/><text class="e" x="84" y="102">一元二次不等式的解法</text></g>
<g id="l1b1a"><path d="M55 96h-7"/><text class="e" x="55" y="96">作差法</text></g>
<g id="l1b1b"><path d="M55 100h-7"/><text class="e" x="55" y="100">作商法</text></g>
<g id="l1b1c"><path d="M55 104h-7"/><text class="e" x="55" y="104">图像法</text></g>
<g id="l1b1d"><path d="M55 108.5h-7"/><text class="e" x="55" y="108.5">数轴法</text></g>
<g id="l1s1"><path class="br" d="M46.5 94.8q-1 0-1 1v1.2q0 1-1 1q1 0 1 1v1.2q0 1 1 1"/><rect class="sb" x="26" y="96.6" width="16.5" height="4.4" rx=".8"/><text class="st" x="34.25" y="99.5">比较两数大小</text></g>
<g id="l1s2"><path class="br" d="M46.5 102.6q-1 0-1 1v1.9q0 1-1 1q1 0 1 1v1.9q0 1 1 1"/><rect class="sb" x="11" y="104.3" width="31" height="4.4" rx=".8"/><text class="st" x="26.5" y="107.2">三个二次之间的关系与应用</text></g>
<g id="l1b2"><path d="M83 112h-7"/><text class="e" x="83" y="112">分式型</text></g>
<g id="l1b2a"><path d="M63 112h-5"/><text class="e" x="63" y="112">移项</text></g>
<g id="l1b3"><path d="M83 117h-11"/><text class="e" x="83" y="117">含绝对值型</text></g>
<g id="l1b3a"><path d="M63 117h-11"/><text class="e" x="63" y="117">零点分段法</text></g>
<g id="l1c"><path d="M100 124h-12"/><text class="e" x="100" y="124">恒成立问题</text></g>
<g id="l1c1"><path d="M83 121h-9"/><text class="e" x="83" y="121">分离参数</text></g>
<g id="l1c2"><path d="M83 126h-7"/><text class="e" x="83" y="126">判别式</text></g>
<g id="l1d"><path d="M100 138h-10"/><text class="e" x="100" y="138">基本不等式</text></g>
<g id="l1d1"><path d="M84 130h-6"/><text class="e" x="84" y="130">一正</text></g>
<g id="l1d2"><path d="M84 134h-9"/><text class="e" x="84" y="134">二定三等</text></g>
<g id="l1d3"><path d="M84 138h-15"/><text class="e" x="84" y="138">积定和最小和定积</text></g>
<g id="l1e"><path d="M100 145h-10"/><text class="e" x="100" y="145">常见变形</text></g>
<g id="l1e1"><path d="M84 142.5h-8"/><text class="e" x="84" y="142.5">拼凑法</text></g>
<g id="l1e2"><path d="M84 146.5h-8"/><text class="e" x="84" y="146.5">常数代换</text></g>
<g id="l1e3"><path d="M84 150h-8"/><text class="e" x="84" y="150">消元法</text></g>
<g id="l1f"><path d="M100 153h-10"/><text class="e" x="100" y="153">条件最值</text></g>
<g id="l1f1"><path d="M84 152.5h-5"/><text class="e" x="84" y="152.5">换元</text></g>
<g id="l1f2"><path d="M84 156h-32"/><text class="e" x="84" y="156">已知x+y的值求倒数和的最小值</text></g>
<g id="l1g"><path d="M100 160h-10"/><text class="e" x="100" y="160">实际应用</text></g>
<g id="l1g1"><path d="M84 160h-6"/><text class="e" x="84" y="160">建模</text></g>
<g id="l1h"><path d="M100 164h-10"/><text class="e" x="100" y="164">糖水不等</text></g>
<g id="l1h1"><path d="M84 164h-20"/><text class="e" x="84" y="164">真分数加正数值变大</text></g>
<g id="l2a"><path d="M113 172h-7"/><text class="e" x="113" y="172">映射法</text></g>
<g id="l2a1"><path d="M100 172h-8"/><text class="e" x="100" y="172">一一映射</text></g>
<g id="l2b"><path d="M115 183h-13"/><text class="e" x="115" y="183">函数相等判断</text></g>
<g id="l2b1"><path d="M98 177h-16"/><text class="e" x="98" y="177">定义域对应法则</text></g>
<g id="l2b1a"><path d="M72 177h-16"/><text class="e" x="72" y="177">两要素都相同时</text></g>
<g id="l2b2"><path d="M98 181h-12"/><text class="e" x="98" y="181">值域不必看</text></g>
<g id="l2b3"><path d="M98 185.5h-16"/><text class="e" x="98" y="185.5">化简之后再判断</text></g>
<g id="l2b3a"><path d="M72 185.5h-6"/><text class="e" x="72" y="185.5">注意</text></g>
<g id="l2b4"><path d="M98 190h-14"/><text class="e" x="98" y="190">表达式可以不同</text></g>
<g id="l2b4a"><path d="M72 190h-16"/><text class="e" x="72" y="190">与自变量字母无关</text></g>
<g id="l2c"><path d="M112 198h-10"/><text class="e" x="112" y="198">区间的表示</text></g>
<g id="l2c1"><path d="M94 193h-8"/><text class="e" x="94" y="193">开区间</text></g>
<g id="l2c2"><path d="M94 198h-8"/><text class="e" x="94" y="198">闭区间</text></g>
<g id="l2c3"><path d="M94 202.5h-8"/><text class="e" x="94" y="202.5">半开半闭</text></g>
<g id="l2c4"><path d="M94 206.5h-8"/><text class="e" x="94" y="206.5">无穷区间</text></g>
<g id="l2d"><path d="M110 217h-15"/><text class="e" x="110" y="217">函数的三种表示</text></g>
<g id="l2d1"><path d="M88 210h-8"/><text class="e" x="88" y="210">解析法</text></g>
<g id="l2d2"><path d="M88 213.5h-8"/><text class="e" x="88" y="213.5">列表法</text></g>
<g id="l2d3"><path d="M88 217h-8"/><text class="e" x="88" y="217">图像法</text></g>
<g id="l2d4"><path d="M88 220.5h-8"/><text class="e" x="88" y="220.5">分段表示</text></g>
<g id="l2d5"><path d="M88 224h-8"/><text class="e" x="88" y="224">实际问题</text></g>
<g id="l2d6"><path d="M88 228h-8"/><text class="e" x="88" y="228">图表信息</text></g>
<g id="l2e"><path d="M112 244h-5"/><text class="e" x="112" y="244">单调</text></g>
<g id="l2e1"><path d="M99 232h-6"/><text class="e" x="99" y="232">定义</text></g>
<g id="l2e1a"><path d="M84 232h-4"/><text class="e" x="84" y="232">任取</text></g>
<g id="l2e2"><path d="M99 243h-6"/><text class="e" x="99" y="243">判断</text></g>
<g id="l2e2a"><path d="M86 235h-7"/><text class="e" x="86" y="235">定义法</text></g>
<g id="l2e2b"><path d="M86 239h-7"/><text class="e" x="86" y="239">图像法</text></g>
<g id="l2e2c"><path d="M86 243.5h-7"/><text class="e" x="86" y="243.5">导数法</text></g>
<g id="l2e2d"><path d="M86 248h-7"/><text class="e" x="86" y="248">复合法</text></g>
<g id="l2e3"><path d="M99 255h-6"/><text class="e" x="99" y="255">应用</text></g>
<g id="l2e3a"><path d="M87 252.5h-7"/><text class="e" x="87" y="252.5">比大小</text></g>
<g id="l2e3b"><path d="M87 257.5h-14"/><text class="e" x="87" y="257.5">解不等式求参数</text></g>
<g id="l2f"><path d="M112 266h-5"/><text class="e" x="112" y="266">奇偶</text></g>
<g id="l2f1"><path d="M99 262h-7"/><text class="e" x="99" y="262">定义域</text></g>
<g id="l2f1a"><path d="M84 262h-7"/><text class="e" x="84" y="262">对称性</text></g>
<g id="l2f2"><path d="M99 266h-7"/><text class="e" x="99" y="266">奇函数</text></g>
<g id="l2f2a"><path d="M87 266h-5"/><text class="e" x="87" y="266">过原</text></g>
<g id="l2f3"><path d="M99 270h-7"/><text class="e" x="99" y="270">偶函数</text></g>
<g id="l2f3a"><path d="M87 270h-10"/><text class="e" x="87" y="270">图像关于y轴</text></g>
<g id="l2g"><path d="M112 279h-5"/><text class="e" x="112" y="279">周期</text></g>
<g id="l2g1"><path d="M99 274h-8"/><text class="e" x="99" y="274">周期定义</text></g>
<g id="l2g2"><path d="M99 279h-13"/><text class="e" x="99" y="279">最小正周期值</text></g>
<g id="l2g3"><path d="M99 283h-13"/><text class="e" x="99" y="283">周期性的应用</text></g>
<g id="l2h"><path d="M112 289h-15"/><text class="e" x="112" y="289">函数图像对称性</text></g>
<g id="l2h1"><path d="M88 287h-8"/><text class="e" x="88" y="287">中心对称</text></g>
<g id="l2h2"><path d="M88 291h-8"/><text class="e" x="88" y="291">轴对称性</text></g>
<g id="l3a"><path d="M112 306h-15"/><text class="e" x="112" y="306">三个二次的关系</text></g>
<g id="l3a1"><path d="M87 299h-23"/><text class="e" x="87" y="299">二次函数、方程、不等式</text></g>
<g id="l3a2"><path d="M87 304h-28"/><text class="e" x="87" y="304">判别式大于零有两个不等实根</text></g>
<g id="l3a3"><path d="M87 308h-27"/><text class="e" x="87" y="308">判别式等于零有两相等实根</text></g>
<g id="l3a4"><path d="M87 313h-37"/><text class="e" x="87" y="313">判别式小于零时方程没有实根函数无零点</text></g>
<g id="l3b"><path d="M112 319h-9"/><text class="e" x="112" y="319">根的分布</text></g>
<g id="l3b1"><path d="M97 317h-7"/><text class="e" x="97" y="317">同号根</text></g>
<g id="l3b2"><path d="M97 321h-10"/><text class="e" x="97" y="321">一正一负根</text></g>
<g id="l3c"><path d="M110 326h-12"/><text class="e" x="110" y="326">韦达定理应用</text></g>
<g id="l3d"><path d="M111 332.5h-11"/><text class="e" x="111" y="332.5">含参不等式</text></g>
<g id="l3d1"><path d="M92 330.5h-6"/><text class="e" x="92" y="330.5">分类</text></g>
<g id="l3d2"><path d="M92 334.5h-6"/><text class="e" x="92" y="334.5">讨论</text></g>
<g id="l4a"><path d="M110 344h-10"/><text class="e" x="110" y="344">重要不等式</text></g>
<g id="l4b"><path d="M112 354h-8"/><text class="e" x="112" y="354">求最值题</text></g>
<g id="l4b1"><path d="M98 353h-7"/><text class="e" x="98" y="353">四类法</text></g>
<g id="l4b1a"><path d="M86 347h-20"/><text class="e" x="86" y="347">和定积最大积定和最小</text></g>
<g id="l4b1b"><path d="M86 351h-17"/><text class="e" x="86" y="351">配凑法构造定值</text></g>
<g id="l4b1c"><path d="M86 355h-14"/><text class="e" x="86" y="355">常数代换方法</text></g>
<g id="l4b1d"><path d="M86 359h-7"/><text class="e" x="86" y="359">消元法</text></g>
<g id="l4c"><path d="M110 364h-8"/><text class="e" x="110" y="364">应用问题</text></g>
<g id="l4c1"><path d="M97 361h-11"/><text class="e" x="97" y="361">实际应用题</text></g>
<g id="l4c1a"><path d="M82 360.5h-7"/><text class="e" x="82" y="360.5">建模型</text></g>
<g id="l4c2"><path d="M96 366.5h-8"/><text class="e" x="96" y="366.5">取等条件</text></g>
<g id="l4c2a"><path d="M78 367h-2"/><text class="e" x="78" y="367">等</text></g>
<g id="l4c3"><path d="M97 372.5h-11"/><text class="e" x="97" y="372.5">验证取等号</text></g>
<g id="l5a"><path d="M115 382h-7"/><text class="e" x="115" y="382">零点题</text></g>
<g id="l5b"><path d="M115 403h-8"/><text class="e" x="115" y="403">函数模型</text></g>
<g id="l5b1"><path d="M97 387h-8"/><text class="e" x="97" y="387">零点定理</text></g>
<g id="l5b1a"><path d="M83 385h-7"/><text class="e" x="83" y="385">二分法</text></g>
<g id="l5b1b"><path d="M83 389h-7"/><text class="e" x="83" y="389">精确度</text></g>
<g id="l5b2"><path d="M98 396h-5"/><text class="e" x="98" y="396">方程</text></g>
<g id="l5b2a"><path d="M83 393.5h-13"/><text class="e" x="83" y="393.5">零点与方程根</text></g>
<g id="l5b2b"><path d="M83 398h-15"/><text class="e" x="83" y="398">函数图像的交点</text></g>
<g id="l5b3"><path d="M95 406h-22"/><text class="e" x="95" y="406">指数与对数函数增长模型</text></g>
<g id="l5b3a"><path d="M63 402h-6"/><text class="e" x="63" y="402">增长</text></g>
<g id="l5b3b"><path d="M63 406h-6"/><text class="e" x="63" y="406">衰减</text></g>
<g id="l5b3c"><path d="M63 411h-6"/><text class="e" x="63" y="411">比较</text></g>
<g id="l5b4"><path d="M97 415h-14"/><text class="e" x="97" y="415">分段函数模型</text></g>
<g id="l5b4a"><path d="M74 415h-6"/><text class="e" x="74" y="415">收费</text></g>
<g id="l5b5"><path d="M95 421h-17"/><text class="e" x="95" y="421">二次函数模型应用</text></g>
<g id="l5b5a"><path d="M70 419h-7"/><text class="e" x="70" y="419">利润题</text></g>
<g id="l5b5b"><path d="M70 423h-7"/><text class="e" x="70" y="423">面积题</text></g>
<g id="l6a"><path d="M128 493h-26"/><text class="e" x="128" y="493">函数与方程思想、数形结合</text></g>
<g id="l6a1"><path d="M97 447h-9"/><text class="e" x="97" y="447">转化思想</text></g>
<g id="l6a1x"><path d="M81 432h-7"/><text class="e" x="81" y="432">等价性</text></g>
<g id="l6a1y"><path d="M83 463h-15"/><text class="e" x="83" y="463">常见的转化方法</text></g>
<g id="l6y1"><path d="M63 437h-10"/><text class="e" x="63" y="437">换元法转化</text></g>
<g id="l6y1a"><path d="M43 436h-16"/><text class="e" x="43" y="436">整体代换局部换元</text></g>
<g id="l6y1b"><path d="M43 440h-14"/><text class="e" x="43" y="440">三角换元代数式</text></g>
<g id="l6y2"><path d="M63 446h-10"/><text class="e" x="63" y="446">构造函数法</text></g>
<g id="l6y2a"><path d="M43 443h-16"/><text class="e" x="43" y="443">构造函数证不等式</text></g>
<g id="l6y2b"><path d="M43 447h-16"/><text class="e" x="43" y="447">构造方程求参数值</text></g>
<g id="l6y2c"><path d="M43 451h-16"/><text class="e" x="43" y="451">构造数列求通项式</text></g>
<g id="l6y2d"><path d="M43 454.5h-16"/><text class="e" x="43" y="454.5">构造图形求最值法</text></g>
<g id="l6y3"><path d="M63 459h-10"/><text class="e" x="63" y="459">正难则反法</text></g>
<g id="l6y3a"><path d="M43 457h-18"/><text class="e" x="43" y="457">补集思想求参数范围</text></g>
<g id="l6y3b"><path d="M43 461.5h-6"/><text class="e" x="43" y="461.5">反证</text></g>
<g id="l6y3c"><path d="M43 466h-6"/><text class="e" x="43" y="466">排除</text></g>
<g id="l6y4"><path d="M62 476h-21"/><text class="e" x="62" y="476">特殊与一般化的思想</text></g>
<g id="l6y4a"><path d="M33 470h-6"/><text class="e" x="33" y="470">特值</text></g>
<g id="l6y4b"><path d="M33 474h-6"/><text class="e" x="33" y="474">特例</text></g>
<g id="l6y4c"><path d="M33 478.5h-6"/><text class="e" x="33" y="478.5">极限</text></g>
<g id="l6y4d"><path d="M33 483h-6"/><text class="e" x="33" y="483">赋值</text></g>
<g id="l6y5"><path d="M62 489h-13"/><text class="e" x="62" y="489">分类讨论思想</text></g>
<g id="l6y5a"><path d="M40 487h-17"/><text class="e" x="40" y="487">参数分类标准确定</text></g>
<g id="l6y5b"><path d="M40 491h-10"/><text class="e" x="40" y="491">不重复遗漏</text></g>
<g id="l6a2"><path d="M97 503h-10"/><text class="e" x="97" y="503">数形结合法</text></g>
<g id="l6a2a"><path d="M78 496h-11"/><text class="e" x="78" y="496">以形助数</text></g>
<g id="l6a2b"><path d="M78 500h-11"/><text class="e" x="78" y="500">以数解形</text></g>
<g id="l6a2c"><path d="M78 504.5h-11"/><text class="e" x="78" y="504.5">函数图像法</text></g>
<g id="l6a2d"><path d="M78 509h-11"/><text class="e" x="78" y="509">几何意义法</text></g>
<g id="l6a3"><path d="M97 521h-10"/><text class="e" x="97" y="521">方程的思想</text></g>
<g id="l6a3a"><path d="M78 514h-8"/><text class="e" x="78" y="514">待定系数</text></g>
<g id="l6a3a1"><path d="M62 514h-5"/><text class="e" x="62" y="514">设参</text></g>
<g id="l6a3b"><path d="M78 518h-16"/><text class="e" x="78" y="518">列方程组求未知量</text></g>
<g id="l6a3c"><path d="M78 521.5h-10"/><text class="e" x="78" y="521.5">消元的方法</text></g>
<g id="l6a3c1"><path d="M63 521.5h-10"/><text class="e" x="63" y="521.5">代入消元法</text></g>
<g id="l6a3d"><path d="M78 525.5h-8"/><text class="e" x="78" y="525.5">韦达定理</text></g>
<g id="l6a3d1"><path d="M62 525.5h-5"/><text class="e" x="62" y="525.5">根系</text></g>
<g id="l6a3e"><path d="M78 530h-10"/><text class="e" x="78" y="530">判别式方法</text></g>
<g id="l6a3e1"><path d="M62 530h-8"/><text class="e" x="62" y="530">求范围</text></g>
<g id="l6a4"><path d="M97 538h-13"/><text class="e" x="97" y="538">函数思想应用</text></g>
<g id="l6a4a"><path d="M78 534h-12"/><text class="e" x="78" y="534">构造辅助函数</text></g>
<g id="l6a4b"><path d="M78 538h-6"/><text class="e" x="78" y="538">最值</text></g>
<g id="l6a4c"><path d="M78 542h-6"/><text class="e" x="78" y="542">单调</text></g>
<g id="l6b"><path d="M125 555h-13"/><text class="e" x="125" y="555">配方法的应用</text></g>
<g id="l6b1"><path d="M103 547h-12"/><text class="e" x="103" y="547">二次函数最值</text></g>
<g id="l6b2"><path d="M103 551h-20"/><text class="e" x="103" y="551">化简根式与求值域问题</text></g>
<g id="l6b3"><path d="M103 555h-17"/><text class="e" x="103" y="555">圆的一般方程化标准</text></g>
<g id="l6b4"><path d="M103 559h-14"/><text class="e" x="103" y="559">三角式的化简</text></g>
<g id="l6b5"><path d="M103 563h-8"/><text class="e" x="103" y="563">证明题</text></g>
<g id="l6c"><path d="M125 574h-13"/><text class="e" x="125" y="574">换元法的技巧</text></g>
<g id="l6c1"><path d="M104 570h-6"/><text class="e" x="104" y="570">整体</text></g>
<g id="l6c1a"><path d="M92 568h-7"/><text class="e" x="92" y="568">换元式</text></g>
<g id="l6c1b"><path d="M92 572h-9"/><text class="e" x="92" y="572">求值域题</text></g>
<g id="l6c2"><path d="M104 578h-6"/><text class="e" x="104" y="578">三角</text></g>
<g id="l6c2a"><path d="M92 575h-9"/><text class="e" x="92" y="575">三角换元</text></g>
<g id="l6c2b"><path d="M92 579h-9"/><text class="e" x="92" y="579">均值换元</text></g>
<g id="l6c2c"><path d="M92 583h-9"/><text class="e" x="92" y="583">比值换元</text></g>
<g id="l6d"><path d="M125 589h-10"/><text class="e" x="125" y="589">待定系数法</text></g>
<g id="l6d1"><path d="M107 589h-8"/><text class="e" x="107" y="589">设出形式</text></g>
<g id="l6d1a"><path d="M92 586h-6"/><text class="e" x="92" y="586">列式</text></g>
<g id="l6d1b"><path d="M92 589h-9"/><text class="e" x="92" y="589">解方程组</text></g>
<g id="l6d1c"><path d="M92 593h-6"/><text class="e" x="92" y="593">回代</text></g>
<g id="l6e"><path d="M125 608h-13"/><text class="e" x="125" y="608">分析法综合法</text></g>
<g id="l6e1"><path d="M103 598h-5"/><text class="e" x="103" y="598">执果</text></g>
<g id="l6e2"><path d="M103 602h-5"/><text class="e" x="103" y="602">索因</text></g>
<g id="l6e3"><path d="M103 606h-5"/><text class="e" x="103" y="606">由因</text></g>
<g id="l6e4"><path d="M103 610h-31"/><text class="e" x="103" y="610">由已知条件推出结论，逆向分析</text></g>
<g id="l6e5"><path d="M103 614h-5"/><text class="e" x="103" y="614">导果</text></g>
<g id="l6e6"><path d="M103 618h-5"/><text class="e" x="103" y="618">书写</text></g>
<g id="l6f"><path d="M125 623h-13"/><text class="e" x="125" y="623">反证法的步骤</text></g>
<g id="l6f1"><path d="M105 623h-7"/><text class="e" x="105" y="623">假设否</text></g>
<g id="l6g"><path d="M125 634h-13"/><text class="e" x="125" y="634">数学归纳证明</text></g>
<g id="l6g1"><path d="M106 627h-7"/><text class="e" x="106" y="627">奠基步</text></g>
<g id="l6g2"><path d="M106 632h-6"/><text class="e" x="106" y="632">假设</text></g>
<g id="l6g3"><path d="M106 636h-17"/><text class="e" x="106" y="636">由n=k推n=k+1</text></g>
<g id="l6h"><path d="M125 647h-13"/><text class="e" x="125" y="647">放缩法证明题</text></g>
<g id="l6h1"><path d="M106 639.5h-7"/><text class="e" x="106" y="639.5">裂项放</text></g>
<g id="l6h2"><path d="M106 643.5h-7"/><text class="e" x="106" y="643.5">加项放</text></g>
<g id="l6h3"><path d="M106 648h-7"/><text class="e" x="106" y="648">函数放</text></g>
<g id="l6i"><path d="M125 686h-10"/><text class="e" x="125" y="686">分离参数法</text></g>
<g id="l6i1"><path d="M108 668h-10"/><text class="e" x="108" y="668">分离的类型</text></g>
<g id="l6i1a"><path d="M90 653h-16"/><text class="e" x="90" y="653">完全分离参数法求解</text></g>
<g id="l6i1b"><path d="M90 657h-16"/><text class="e" x="90" y="657">部分分离参数方法</text></g>
<g id="l6i1c"><path d="M90 661.5h-16"/><text class="e" x="90" y="661.5">变量分离后求最值</text></g>
<g id="l6i1d"><path d="M90 665.5h-16"/><text class="e" x="90" y="665.5">构造新函数求导数</text></g>
<g id="l6i1e"><path d="M90 670h-16"/><text class="e" x="90" y="670">讨论函数的单调性</text></g>
<g id="l6i1f"><path d="M90 674h-16"/><text class="e" x="90" y="674">洛必达法则求极限</text></g>
<g id="l6i1g"><path d="M90 678h-16"/><text class="e" x="90" y="678">端点效应找必要性</text></g>
<g id="l6i1h"><path d="M90 682h-7"/><text class="e" x="90" y="682">验证</text></g>
<g id="l6i2"><path d="M106 687h-6"/><text class="e" x="106" y="687">恒成立</text></g>
<g id="l6i3"><path d="M106 691h-6"/><text class="e" x="106" y="691">能成立</text></g>
<g id="l6i4"><path d="M106 696h-8"/><text class="e" x="106" y="696">有解问题</text></g>
<g id="l6i4a"><path d="M88 695h-12"/><text class="e" x="88" y="695">转化为最值题</text></g>
<g id="l6i4b"><path d="M88 699h-8"/><text class="e" x="88" y="699">分类讨论</text></g>
<g id="l6i5"><path d="M106 703h-3"/><text class="e" x="106" y="703">注</text></g>
<g id="l6i5a"><path d="M97 703h-8"/><text class="e" x="97" y="703">注意定义</text></g>
<g id="l6j"><path d="M126 723h-10"/><text class="e" x="126" y="723">构造函数法</text></g>
<g id="l6j1"><path d="M110 716h-15"/><text class="e" x="110" y="716">构造函数的类型</text></g>
<g id="l6j1a"><path d="M90 708h-8"/><text class="e" x="90" y="708">和差型</text></g>
<g id="l6j1b"><path d="M90 712h-8"/><text class="e" x="90" y="712">积商型</text></g>
<g id="l6j1c"><path d="M90 716h-8"/><text class="e" x="90" y="716">指数型</text></g>
<g id="l6j1d"><path d="M90 719.5h-8"/><text class="e" x="90" y="719.5">对数型</text></g>
<g id="l6j1e"><path d="M90 723h-8"/><text class="e" x="90" y="723">同构型</text></g>
<g id="l6j1f"><path d="M90 726.5h-8"/><text class="e" x="90" y="726.5">比值型</text></g>
<g id="l6j2"><path d="M110 729h-15"/><text class="e" x="110" y="729">构造几何的图形</text></g>
<g id="l6j2a"><path d="M90 729h-13"/><text class="e" x="90" y="729">数形结合求解</text></g>
<g id="l6k"><path d="M126 733h-9"/><text class="e" x="126" y="733">特殊赋值</text></g>
<g id="l6k1"><path d="M108 733h-4"/><text class="e" x="108" y="733">特值</text></g>
<g id="l7a"><path d="M123 748h-9"/><text class="e" x="123" y="748">选择题型</text></g>
<g id="l7a1"><path d="M106 742h-8"/><text class="e" x="106" y="742">排除法</text></g>
<g id="l7a2"><path d="M106 746h-8"/><text class="e" x="106" y="746">特值法</text></g>
<g id="l7a3"><path d="M106 751h-8"/><text class="e" x="106" y="751">验证法</text></g>
<g id="l7a4"><path d="M106 755h-8"/><text class="e" x="106" y="755">估算法</text></g>
<g id="l7b"><path d="M123 763h-6"/><text class="e" x="123" y="763">填空</text></g>
<g id="l7b1"><path d="M111 759h-8"/><text class="e" x="111" y="759">直接法</text></g>
<g id="l7b2"><path d="M111 763h-8"/><text class="e" x="111" y="763">构造法</text></g>
<g id="l7b3"><path d="M111 768h-8"/><text class="e" x="111" y="768">图像法</text></g>
<g id="l7c"><path d="M123 780h-10"/><text class="e" x="123" y="780">解答题型</text></g>
<g id="l7c1"><path d="M106 772h-8"/><text class="e" x="106" y="772">三角函数</text></g>
<g id="l7c2"><path d="M106 776h-8"/><text class="e" x="106" y="776">数列问题</text></g>
<g id="l7c3"><path d="M106 780h-8"/><text class="e" x="106" y="780">立体几何</text></g>
<g id="l7c4"><path d="M106 784h-8"/><text class="e" x="106" y="784">概率统计</text></g>
<g id="l7c5"><path d="M106 788h-8"/><text class="e" x="106" y="788">解析几何</text></g>
<g id="l7d"><path d="M123 795h-10"/><text class="e" x="123" y="795">压轴题型</text></g>
<g id="l7d1"><path d="M106 793h-8"/><text class="e" x="106" y="793">导数综合</text></g>
<g id="l7d2"><path d="M106 797h-8"/><text class="e" x="106" y="797">圆锥曲线</text></g>
<g id="l8a"><path d="M125 806h-9"/><text class="e" x="125" y="806">空集遗漏</text></g>
<g id="l8b"><path d="M125 810h-9"/><text class="e" x="125" y="810">端点取舍</text></g>
<g id="l8c"><path d="M125 814h-10"/><text class="e" x="125" y="814">定义域优先</text></g>
<g id="l8d"><path d="M125 818h-9"/><text class="e" x="125" y="818">分类不全</text></g>
<g id="l8e"><path d="M125 823h-9"/><text class="e" x="125" y="823">忽略检验</text></g>
<g id="l8f"><path d="M125 827h-9"/><text class="e" x="125" y="827">符号错误</text></g>
<g id="l8g"><path d="M125 831h-9"/><text class="e" x="125" y="831">公式误用</text></g>
<g id="l8h"><path d="M125 835h-9"/><text class="e" x="125" y="835">条件遗漏</text></g>
<g id="l8i"><path d="M125 839h-9"/><text class="e" x="125" y="839">审题不清</text></g>
<g id="l8j"><path d="M125 843h-9"/><text class="e" x="125" y="843">计算失误</text></g>
<g id="l8k"><path d="M125 847h-9"/><text class="e" x="125" y="847">单位换算</text></g>
</g>
</svg>
